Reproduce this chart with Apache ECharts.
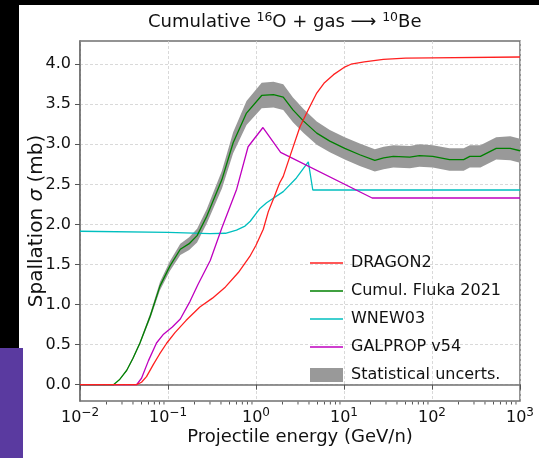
<!DOCTYPE html>
<html><head><meta charset="utf-8">
<script src="https://cdn.jsdelivr.net/npm/echarts@6/dist/echarts.min.js"></script>
<style>html,body{margin:0;padding:0;background:#fff}#c{width:539px;height:458px}</style>
</head><body><div id="c"></div>
<script>
// ---- data (energy in GeV/n, cross-section in mb) ----
const dragonE = [0.01, 0.044, 0.050, 0.057, 0.068, 0.08, 0.097, 0.12, 0.16, 0.23, 0.32, 0.45, 0.63, 0.85, 1.0, 1.21, 1.38, 1.58, 1.86, 2.04, 2.5, 3.16, 4.0, 4.9, 6.0, 7.6, 10, 12, 17, 28, 50, 100, 1000];
const dragonV = [0, 0, 0.03, 0.10, 0.25, 0.38, 0.52, 0.65, 0.80, 0.97, 1.08, 1.22, 1.40, 1.60, 1.74, 1.94, 2.16, 2.32, 2.52, 2.60, 2.89, 3.22, 3.45, 3.64, 3.77, 3.87, 3.96, 4.00, 4.03, 4.06, 4.075, 4.08, 4.09];

const flukaE = [0.01, 0.024, 0.028, 0.034, 0.040, 0.048, 0.063, 0.081, 0.105, 0.138, 0.174, 0.214, 0.275, 0.41, 0.55, 0.78, 1.16, 1.58, 2.04, 2.63, 3.47, 4.9, 6.9, 10.2, 15.1, 22.4, 28.2, 36.3, 56, 72, 102, 158, 229, 269, 355, 537, 776, 1000];
const flukaV = [0, 0, 0.06, 0.18, 0.33, 0.52, 0.86, 1.23, 1.48, 1.69, 1.76, 1.86, 2.10, 2.56, 3.02, 3.39, 3.61, 3.62, 3.59, 3.43, 3.29, 3.14, 3.04, 2.95, 2.87, 2.80, 2.83, 2.85, 2.84, 2.86, 2.85, 2.81, 2.81, 2.85, 2.85, 2.95, 2.95, 2.92];
const bandLow  = [0, 0, 0.06, 0.17, 0.315, 0.50, 0.825, 1.18, 1.42, 1.62, 1.68, 1.775, 2.01, 2.45, 2.89, 3.24, 3.45, 3.46, 3.43, 3.275, 3.14, 2.995, 2.90, 2.81, 2.73, 2.66, 2.69, 2.71, 2.70, 2.72, 2.71, 2.67, 2.67, 2.71, 2.71, 2.81, 2.80, 2.77];
const bandHigh = [0, 0, 0.06, 0.19, 0.345, 0.54, 0.895, 1.28, 1.54, 1.76, 1.84, 1.945, 2.19, 2.67, 3.15, 3.54, 3.77, 3.78, 3.75, 3.585, 3.44, 3.285, 3.18, 3.09, 3.01, 2.94, 2.97, 2.99, 2.98, 3.00, 2.99, 2.95, 2.95, 2.99, 2.99, 3.09, 3.10, 3.07];

const wnewE = [0.01, 0.1, 0.3, 0.45, 0.6, 0.75, 0.86, 1.11, 1.32, 2.04, 2.88, 3.93, 4.42, 1000];
const wnewV = [1.915, 1.90, 1.885, 1.89, 1.93, 1.98, 2.04, 2.20, 2.27, 2.41, 2.58, 2.78, 2.43, 2.43];

const galpropE = [0.01, 0.044, 0.050, 0.060, 0.074, 0.089, 0.112, 0.138, 0.178, 0.219, 0.302, 0.407, 0.603, 0.813, 1.2, 1.905, 20.9, 1000];
const galpropV = [0, 0, 0.08, 0.30, 0.52, 0.63, 0.72, 0.82, 1.04, 1.25, 1.55, 1.95, 2.44, 2.97, 3.21, 2.90, 2.33, 2.33];

const yTicks = [0, 0.5, 1, 1.5, 2, 2.5, 3, 3.5, 4];
const xDecades = [0.01, 0.1, 1, 10, 100, 1000];
const yMin = -0.204, yMax = 4.29;

const FONT = 'DejaVu Sans';
const zip = (a, b) => a.map((v, i) => [v, b[i]]);
const minorTicks = [];
for (let d = 0; d < xDecades.length - 1; d++) for (let m = 2; m <= 9; m++) minorTicks.push([xDecades[d] * m, yMin]);

function supLabel(v) {
  const e = Math.round(Math.log10(v));
  return '{b|10}{s|' + (e < 0 ? '\u2212' : '') + Math.abs(e) + '}';
}
const LINE_ICON = 'path://M0,0H33V1.3H0Z';

const chart = echarts.init(document.getElementById('c'), null, {renderer: 'canvas'});
chart.setOption({
  animation: false,
  backgroundColor: '#ffffff',
  graphic: [
    {type: 'rect', shape: {x: 0, y: 0, width: 539, height: 5}, style: {fill: '#000'}, z: -10},
    {type: 'rect', shape: {x: 0, y: 0, width: 19, height: 348}, style: {fill: '#000'}, z: -10},
    {type: 'rect', shape: {x: 0, y: 348, width: 23, height: 110}, style: {fill: '#5a3aa0'}, z: -10}
  ],
  title: {
    text: '{a|Cumulative }{s|16}{a|O + gas \u27F6 }{s|10}{a|Be}',
    left: 143, top: 6,
    textStyle: {
      fontWeight: 'normal',
      rich: {
        a: {fontSize: 18, fontFamily: FONT, color: '#111', fontWeight: 'normal'},
        s: {fontSize: 12.5, fontFamily: FONT, color: '#111', fontWeight: 'normal', padding: [0, 0, 10, 0]}
      }
    }
  },
  grid: {left: 80, right: 19, top: 41, height: 360, show: true, borderColor: '#707070', borderWidth: 1.5, backgroundColor: 'transparent'},
  legend: {
    orient: 'vertical', left: 305, top: 249,
    itemWidth: 33, itemHeight: 14, itemGap: 10, symbolKeepAspect: true,
    textStyle: {fontSize: 16, fontFamily: FONT, color: '#111', lineHeight: 18, padding: [0, 0, 0, 3]},
    data: [
      {name: 'DRAGON2', icon: LINE_ICON}, {name: 'Cumul. Fluka 2021', icon: LINE_ICON},
      {name: 'WNEW03', icon: LINE_ICON}, {name: 'GALPROP v54', icon: LINE_ICON},
      {name: 'Statistical uncerts.', icon: 'rect', itemStyle: {color: '#999999'}}
    ]
  },
  xAxis: {
    type: 'log', logBase: 10, min: 0.01, max: 1000, splitNumber: 5,
    axisLine: {show: true, lineStyle: {color: '#707070', width: 1.5}},
    axisTick: {show: true, length: 5, lineStyle: {color: '#555', width: 1}},
    splitLine: {show: true, lineStyle: {color: '#cfcfcf', type: [3, 2], width: 0.8}},
    axisLabel: {
      margin: 6, color: '#111', formatter: supLabel,
      rich: {
        b: {fontSize: 16, fontFamily: FONT, color: '#111'},
        s: {fontSize: 12, fontFamily: FONT, color: '#111', padding: [0, 0, 10, 0]}
      }
    },
    name: 'Projectile energy (GeV/n)', nameLocation: 'middle', nameGap: 27, nameMoveOverlap: false,
    nameTextStyle: {fontSize: 18, fontFamily: FONT, color: '#111'}
  },
  yAxis: {
    type: 'value', min: yMin, max: yMax, minInterval: 0.5, maxInterval: 0.5,
    axisLine: {show: true, lineStyle: {color: '#707070', width: 1.5}},
    axisTick: {show: true, length: 5, customValues: yTicks, lineStyle: {color: '#555', width: 1}},
    splitLine: {show: true, lineStyle: {color: '#cfcfcf', type: [3, 2], width: 0.8}},
    axisLabel: {
      margin: 9, fontSize: 16, fontFamily: FONT, color: '#111', customValues: yTicks,
      formatter: v => v.toFixed(1)
    },
    name: '{a|Spallation }{i|\u03C3}{a| (mb)}', nameLocation: 'middle', nameGap: 33, nameMoveOverlap: false,
    nameTextStyle: {
      fontSize: 20, fontFamily: FONT, color: '#111',
      rich: {
        a: {fontSize: 20, fontFamily: FONT, color: '#111'},
        i: {fontSize: 20, fontFamily: FONT, color: '#111', fontStyle: 'italic'}
      }
    }
  },
  series: [
    {name: 'Statistical uncerts.', type: 'custom', coordinateSystem: 'cartesian2d', silent: true,
     itemStyle: {color: '#999999'},
     data: flukaE.map((e, i) => [e, bandLow[i], bandHigh[i]]),
     encode: {x: 0, y: [1, 2]},
     renderItem: (params, api) => {
       if (params.dataIndex !== 0) return null;
       const top = flukaE.map((e, i) => api.coord([e, bandHigh[i]]));
       const bot = flukaE.map((e, i) => api.coord([e, bandLow[i]])).reverse();
       return {type: 'polygon', shape: {points: top.concat(bot)}, style: {fill: '#999999'}};
     }, z: 1},
    {name: 'DRAGON2', type: 'line', symbol: 'none', color: '#ff2020', lineStyle: {width: 1.3}, data: zip(dragonE, dragonV), z: 5},
    {name: 'Cumul. Fluka 2021', type: 'line', symbol: 'none', color: '#008000', lineStyle: {width: 1.3}, data: zip(flukaE, flukaV), z: 4},
    {name: 'WNEW03', type: 'line', symbol: 'none', color: '#00bfbf', lineStyle: {width: 1.3}, data: zip(wnewE, wnewV), z: 3},
    {name: 'GALPROP v54', type: 'line', symbol: 'none', color: '#bf00bf', lineStyle: {width: 1.3}, data: zip(galpropE, galpropV), z: 3},
    {name: 'minorTicks', type: 'custom', coordinateSystem: 'cartesian2d', silent: true, clip: false,
     data: minorTicks,
     renderItem: (params, api) => {
       const p = api.coord([api.value(0), api.value(1)]);
       return {type: 'line', shape: {x1: p[0], y1: p[1] + 0.75, x2: p[0], y2: p[1] + 3.5}, style: {stroke: '#555', lineWidth: 1}};
     }, z: 6}
  ]
});
</script></body></html>
